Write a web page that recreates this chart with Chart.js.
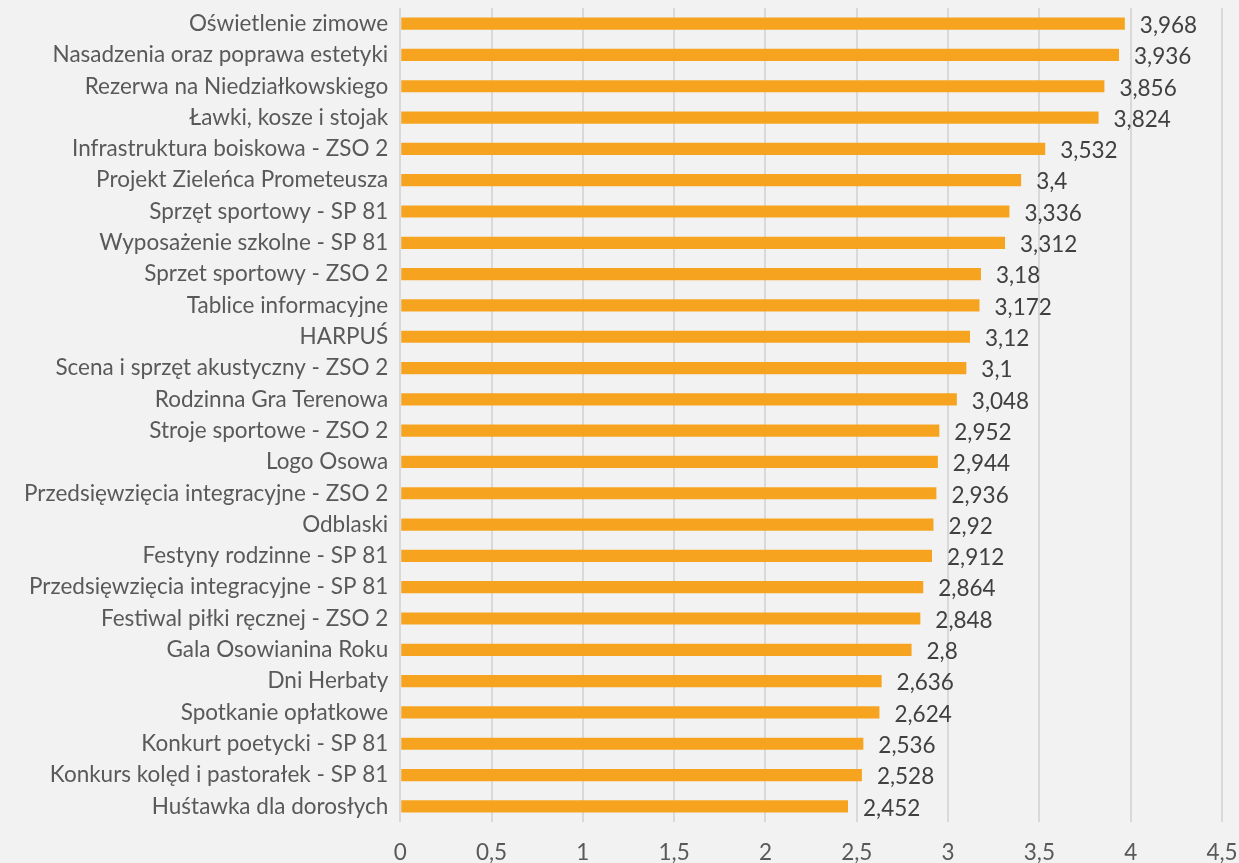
<!DOCTYPE html>
<html>
<head>
<meta charset="utf-8">
<script src="https://cdn.jsdelivr.net/npm/chart.js@4/dist/chart.umd.min.js"></script>
<style>
  html, body { margin: 0; padding: 0; background: #F2F2F2; }
  #wrap { width: 1239px; height: 863px; }
</style>
</head>
<body>
<div id="wrap"><canvas id="myChart" width="1239" height="863"></canvas></div>
<script>
// chart data
var categories = [
  'Oświetlenie zimowe',
  'Nasadzenia oraz poprawa estetyki',
  'Rezerwa na Niedziałkowskiego',
  'Ławki, kosze i stojak',
  'Infrastruktura boiskowa - ZSO 2',
  'Projekt Zieleńca Prometeusza',
  'Sprzęt sportowy - SP 81',
  'Wyposażenie szkolne - SP 81',
  'Sprzet sportowy - ZSO 2',
  'Tablice informacyjne',
  'HARPUŚ',
  'Scena i sprzęt akustyczny - ZSO 2',
  'Rodzinna Gra Terenowa',
  'Stroje sportowe - ZSO 2',
  'Logo Osowa',
  'Przedsięwzięcia integracyjne - ZSO 2',
  'Odblaski',
  'Festyny rodzinne - SP 81',
  'Przedsięwzięcia integracyjne - SP 81',
  'Festiwal piłki ręcznej - ZSO 2',
  'Gala Osowianina Roku',
  'Dni Herbaty',
  'Spotkanie opłatkowe',
  'Konkurt poetycki - SP 81',
  'Konkurs kolęd i pastorałek - SP 81',
  'Huśtawka dla dorosłych'
];
var scores = [3.968, 3.936, 3.856, 3.824, 3.532, 3.4, 3.336, 3.312, 3.18, 3.172, 3.12, 3.1, 3.048,
  2.952, 2.944, 2.936, 2.92, 2.912, 2.864, 2.848, 2.8, 2.636, 2.624, 2.536, 2.528, 2.452];
var xTicks = [0, 0.5, 1, 1.5, 2, 2.5, 3, 3.5, 4, 4.5];

var fontFamily = 'Lato, "Open Sans", sans-serif';
var fontSize = 22.5;

function plNum(v) {
  return String(v).replace('.', ',');
}

// draws the value next to each bar
var valueLabels = {
  id: 'valueLabels',
  afterDatasetsDraw: function(chart) {
    var ctx = chart.ctx;
    var meta = chart.getDatasetMeta(0);
    ctx.save();
    ctx.font = fontSize + 'px ' + fontFamily;
    ctx.fillStyle = '#404040';
    ctx.textAlign = 'left';
    ctx.textBaseline = 'middle';
    meta.data.forEach(function(bar, i) {
      ctx.fillText(plNum(scores[i]), bar.x + 15, bar.y + 2);
    });
    ctx.restore();
  }
};

var canvas = document.getElementById('myChart');
var ctx = canvas.getContext('2d');
var myChart = new Chart(ctx, {
  type: 'bar',
  data: {
    labels: categories,
    datasets: [{
      data: scores,
      backgroundColor: '#F6A420',
      borderWidth: 0,
      categoryPercentage: 1,
      barPercentage: 0.39
    }]
  },
  options: {
    indexAxis: 'y',
    responsive: false,
    animation: false,
    layout: { padding: { top: 8, right: 17, bottom: 0, left: 12 } },
    plugins: {
      legend: { display: false },
      tooltip: { enabled: false }
    },
    scales: {
      x: {
        min: 0,
        max: 4.5,
        afterBuildTicks: function(axis) {
          axis.ticks = xTicks.map(function(v) { return { value: v }; });
        },
        afterFit: function(axis) {
          axis.paddingLeft = 0;
          axis.paddingRight = 0;
          axis.height = 41;
        },
        grid: { color: '#D9D9D9', lineWidth: 2, drawTicks: false },
        border: { display: false },
        ticks: {
          color: '#595959',
          font: { family: fontFamily, size: fontSize },
          padding: 17,
          maxRotation: 0,
          callback: function(v) { return plNum(v); }
        }
      },
      y: {
        afterFit: function(axis) {
          axis.paddingTop = 0;
          axis.paddingBottom = 0;
        },
        grid: { display: false, drawTicks: false },
        border: { display: false },
        ticks: {
          color: '#595959',
          font: { family: fontFamily, size: fontSize },
          padding: 12,
          autoSkip: false
        }
      }
    }
  },
  plugins: [valueLabels]
});
</script>
</body>
</html>
